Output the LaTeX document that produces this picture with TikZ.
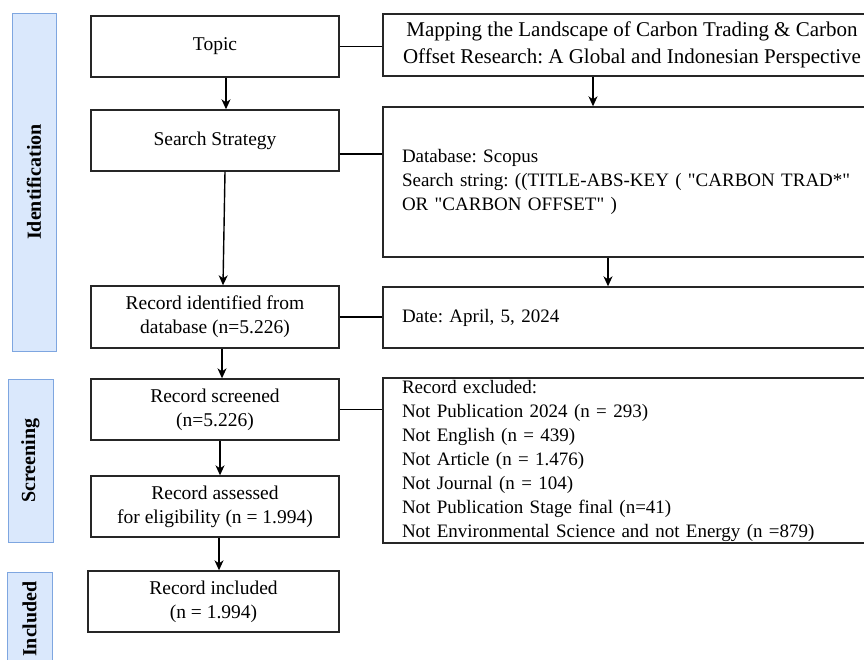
\documentclass[tikz,border=0pt]{standalone}
\usepackage{fontspec}
\setmainfont{Liberation Serif}
\usetikzlibrary{arrows.meta}
\definecolor{phasefill}{HTML}{DAE8FC}
\definecolor{phaseline}{HTML}{7EA6E0}
\frenchspacing

\begin{document}
\begin{tikzpicture}[x=1pt, y=-1pt, line width=1.4pt,
        every node/.style={font=\fontsize{19.5}{24}\selectfont, align=center},
        box/.style={draw=black!85, inner sep=0pt, minimum height=61pt},
        leftbox/.style={box, minimum width=248pt},
        rightbox/.style={box, minimum width=498pt},
        listbox/.style={rightbox, text width=460pt, inner xsep=19pt, align=left, font=\fontsize{19}{24}\selectfont},
        phase/.style={draw=phaseline, fill=phasefill, line width=1pt, rotate=90, inner sep=0pt, font=\fontsize{20}{24}\selectfont\bfseries},
        arr/.style={-{Stealth[length=10pt, width=9pt, inset=3pt]}}]
        \clip (0,0) rectangle (864,659);

        % Phase bars
        \node[phase, minimum width=338pt, minimum height=44pt] (idphase) at (34,182) {Identification};
        \node[phase, minimum width=163pt, minimum height=45pt] (scphase) at (30.5,460.5) {Screening};
        \node[phase, minimum width=94pt, minimum height=45pt] (inphase) at (29.5,619) {Included};

        % Left column
        \node[leftbox] (topic) at (215,46.5) {Topic};
        \node[leftbox] (search) at (215,140.5) {Search Strategy};
        \node[leftbox, minimum height=62pt] (ident) at (215,317) {Record identified from\\database (n=5.226)};
        \node[leftbox] (screen) at (215,409.5) {Record screened\\(n=5.226)};
        \node[leftbox] (assess) at (215,506.5) {Record assessed\\for eligibility (n = 1.994)};
        \node[leftbox, minimum width=251pt] (incl) at (213.5,601.5) {Record included\\(n = 1.994)};

        % Right column
        \node[rightbox, minimum height=62pt, font=\fontsize{21}{27}\selectfont] (title) at (632,45) {Mapping the Landscape of Carbon Trading \& Carbon\\Offset Research: A Global and Indonesian Perspective};
        \node[listbox, minimum height=150pt] (db) at (632,182) {Database: Scopus\\Search string: ((TITLE-ABS-KEY ( \textquotedbl CARBON TRAD*\textquotedbl\\OR \textquotedbl CARBON OFFSET\textquotedbl{} )};
        \node[listbox] (date) at (632,317.5) {Date: April, 5, 2024};
        \node[listbox, minimum height=165pt, inner ysep=1pt] (excl) at (632,460.5) {Record excluded:\\Not Publication 2024 (n = 293)\\Not English (n = 439)\\Not Article (n = 1.476)\\Not Journal (n = 104)\\Not Publication Stage final (n=41)\\Not Environmental Science and not Energy (n =879)};

        % Arrows down the left column
        \draw[arr] ([xshift=11pt]topic.south) -- ([xshift=11pt]search.north);
        \draw[arr] ([xshift=10pt]search.south) -- ([xshift=8pt]ident.north);
        \draw[arr] ([xshift=7pt]ident.south) -- ([xshift=7pt]screen.north);
        \draw[arr] ([xshift=5pt]screen.south) -- ([xshift=5pt]assess.north);
        \draw[arr] ([xshift=4pt]assess.south) -- ([xshift=5.5pt]incl.north);

        % Arrows down the right column
        \draw[arr] ([xshift=-39pt]title.south) -- ([xshift=-39pt]db.north);
        \draw[arr] ([xshift=-24pt]db.south) -- ([xshift=-24pt]date.north);

        % Links left to right
        \draw (topic.east) -- (topic.east -| title.west);
        \draw ([yshift=-13.5pt]search.east) -- ([yshift=-13.5pt]search.east -| db.west);
        \draw (ident.east) -- (ident.east -| date.west);
        \draw (screen.east) -- (screen.east -| excl.west);
    \end{tikzpicture}
\end{document}
